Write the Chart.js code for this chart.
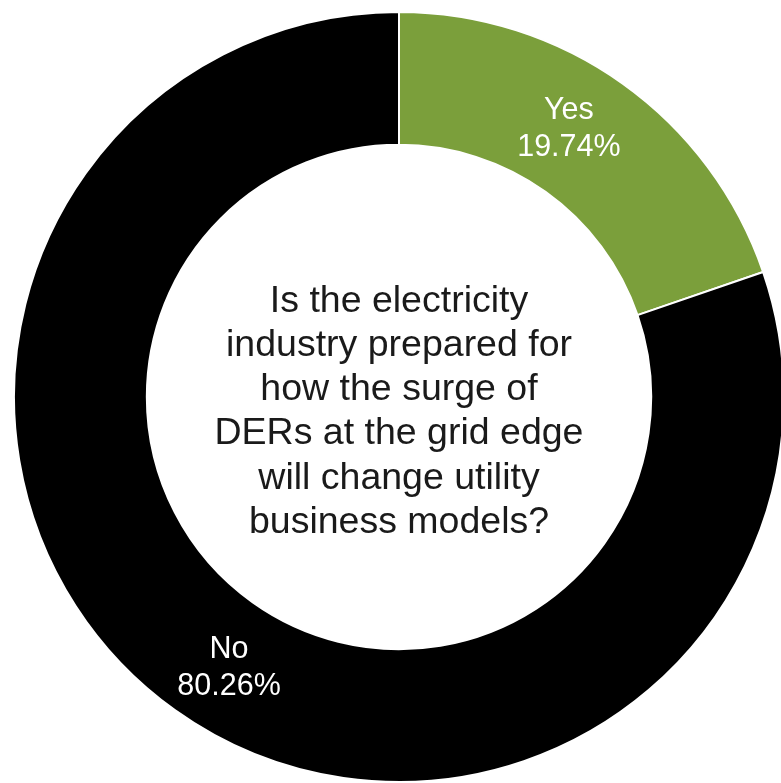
<!DOCTYPE html>
<html>
<head>
<meta charset="utf-8">
<title>DER survey</title>
<script src="https://cdn.jsdelivr.net/npm/chart.js@4/dist/chart.umd.min.js"></script>
<style>
  html, body { margin: 0; padding: 0; background: #fff; overflow: hidden; }
  body { width: 781px; height: 783px; position: relative; }
  #wrap { position: absolute; left: 13px; top: 11px; width: 772px; height: 772px; }
</style>
</head>
<body>
<div id="wrap"><canvas id="der-chart"></canvas></div>
<script>
const answers = ['Yes', 'No']
const shares = [19.74, 80.26]
const sliceColors = ['#7b9f3b', '#000000']
const questionLines = [
  'Is the electricity',
  'industry prepared for',
  'how the surge of',
  'DERs at the grid edge',
  'will change utility',
  'business models?'
]

// question text in the hole
const centerText = {
  id: 'centerText',
  afterDraw(chart) {
    const arc = chart.getDatasetMeta(0).data[0]
    const ctx = chart.ctx
    ctx.save()
    ctx.fillStyle = '#1a1a1a'
    ctx.font = '37.5px "Liberation Sans", Arial, sans-serif'
    ctx.textAlign = 'center'
    ctx.textBaseline = 'alphabetic'
    const lineH = 44.3
    const first = arc.y - 85.5
    questionLines.forEach((line, i) => ctx.fillText(line, arc.x, first + i * lineH))
    ctx.restore()
  }
}

// answer + percentage on each slice
const sliceLabels = {
  id: 'sliceLabels',
  afterDatasetsDraw(chart) {
    const ctx = chart.ctx
    const meta = chart.getDatasetMeta(0)
    ctx.save()
    ctx.fillStyle = '#ffffff'
    ctx.font = '30.5px "Liberation Sans", Arial, sans-serif'
    ctx.textAlign = 'center'
    ctx.textBaseline = 'middle'
    meta.data.forEach((arc, i) => {
      const p = arc.getProps(['x', 'y', 'startAngle', 'endAngle', 'innerRadius', 'outerRadius'], true)
      const mid = (p.startAngle + p.endAngle) / 2 - 3.3 * Math.PI / 180
      const r = (p.innerRadius + p.outerRadius) / 2
      const cx = p.x + Math.cos(mid) * r
      const cy = p.y + Math.sin(mid) * r + 2
      ctx.fillText(answers[i], cx, cy - 19)
      ctx.fillText(shares[i].toFixed(2) + '%', cx, cy + 18)
    })
    ctx.restore()
  }
}

const data = {
  labels: answers,
  datasets: [{
    data: shares,
    backgroundColor: sliceColors,
    borderColor: '#ffffff',
    borderWidth: 2
  }]
}

const config = {
  type: 'doughnut',
  data: data,
  options: {
    responsive: true,
    maintainAspectRatio: false,
    animation: false,
    cutout: '65.5%',
    layout: { padding: 0 },
    plugins: {
      legend: { display: false },
      tooltip: { enabled: false }
    }
  },
  plugins: [sliceLabels, centerText]
}

const myChart = new Chart(document.getElementById('der-chart'), config)
</script>
</body>
</html>
